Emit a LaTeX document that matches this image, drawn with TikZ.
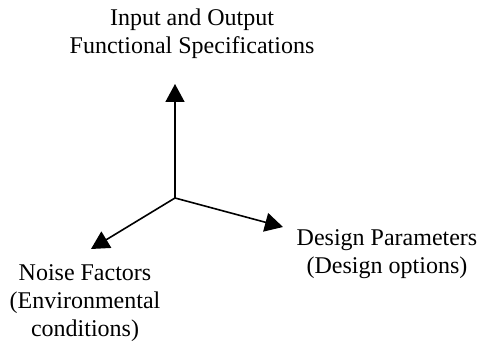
\documentclass[tikz,border=0pt]{standalone}
\usepackage{fontspec}
\setmainfont{Liberation Serif}
\usetikzlibrary{arrows.meta}
\tikzset{axis/.style = {line width=1.6pt, -{Triangle[length=18pt,width=19pt]}},
         label/.style = {align=center, font=\fontsize{24}{28}\selectfont, inner sep=0pt}}

\begin{document}
\begin{tikzpicture}[x=1pt,y=-1pt]
        \useasboundingbox (0,0) rectangle (480,344);
        \coordinate (o) at (175,198);
        \coordinate (up) at (175,84);
        \coordinate (dp) at (283,227);
        \coordinate (nf) at (91,249);

        \draw[axis](o)--(up);
        \draw[axis](o)--(dp);
        \draw[axis](o)--(nf);

        \node[label] (io) at (192,34){Input and Output\\Functional Specifications};
        \node[label] (dpl) at (387,254){Design Parameters\\(Design options)};
        \node[label] (nfl) at (85,303){Noise Factors\\(Environmental\\conditions)};
    \end{tikzpicture}
\end{document}
